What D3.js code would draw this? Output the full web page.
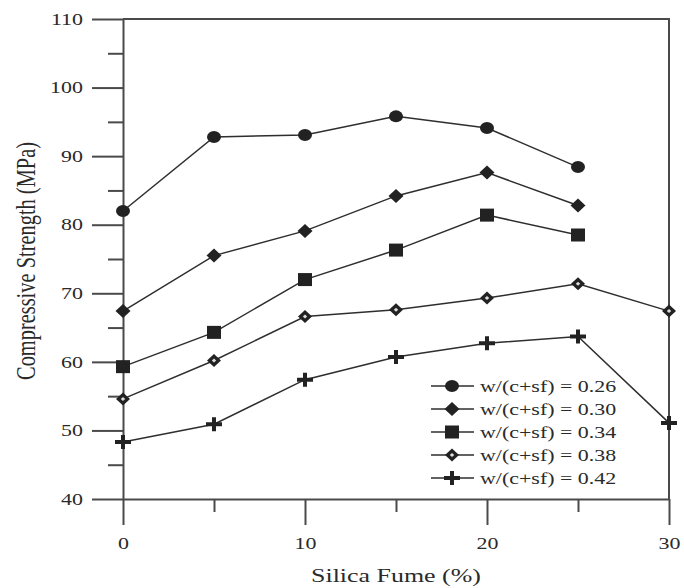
<!DOCTYPE html>
<html>
<head>
<meta charset="utf-8">
<script src="https://cdn.jsdelivr.net/npm/d3@7"></script>
<style>
  body { margin: 0; background: #fff; }
  text { font-family: "Liberation Serif", "Times New Roman", serif; fill: #2a2a2a; }
</style>
</head>
<body>
<svg id="chart" width="684" height="588"></svg>
<script>
// Silica fume replacement levels (%) and compressive strength (MPa) per w/(c+sf) ratio
const silicaFume = [0, 5, 10, 15, 20, 25, 30];
const ratioLabels = ["w/(c+sf) = 0.26", "w/(c+sf) = 0.30", "w/(c+sf) = 0.34", "w/(c+sf) = 0.38", "w/(c+sf) = 0.42"];
const strength026 = [82.0, 92.8, 93.1, 95.8, 94.1, 88.4];
const strength030 = [67.4, 75.5, 79.1, 84.2, 87.6, 82.8];
const strength034 = [59.3, 64.3, 72.0, 76.3, 81.4, 78.5];
const strength038 = [54.6, 60.2, 66.6, 67.6, 69.3, 71.4, 67.4];
const strength042 = [48.3, 50.9, 57.4, 60.7, 62.7, 63.7, 51.1];
const markerTypes = ["circle", "diamond", "square", "openDiamond", "plus"];
const xMajorTicks = [0, 10, 20, 30];
const xMinorTicks = [5, 15, 25];
const yMajorTicks = [40, 50, 60, 70, 80, 90, 100, 110];
const yMinorTicks = [45, 55, 65, 75, 85, 95, 105];

const seriesValues = [strength026, strength030, strength034, strength038, strength042];
const series = seriesValues.map((vals, i) => ({
  label: ratioLabels[i],
  marker: markerTypes[i],
  points: vals.map((v, j) => ({ x: silicaFume[j], y: v }))
}));

const SX = 1.33;   // horizontal glyph stretch used for all lettering
const ink = "#222";
const axisColor = "#4a4a4a";

const svg = d3.select("#chart");
const plotLeft = 123, plotRight = 669, plotTop = 19, plotBottom = 499;

const x = d3.scaleLinear().domain([0, 30]).range([plotLeft, plotRight]);
const y = d3.scaleLinear().domain([40, 110]).range([plotBottom, plotTop]);

// Plot frame (top and right edges)
svg.append("path")
  .attr("d", `M${plotLeft},${plotTop}H${plotRight}V${plotBottom}`)
  .attr("fill", "none").attr("stroke", axisColor).attr("stroke-width", 2);

// Y axis
const yAxis = svg.append("g").attr("transform", `translate(${plotLeft},0)`)
  .call(d3.axisLeft(y).tickValues(yMajorTicks).tickSize(31).tickSizeOuter(0).tickPadding(9));
svg.append("g").attr("transform", `translate(${plotLeft},0)`)
  .call(d3.axisLeft(y).tickValues(yMinorTicks).tickSize(15).tickSizeOuter(0).tickFormat(""))
  .select(".domain").remove();

// X axis
const xAxis = svg.append("g").attr("transform", `translate(0,${plotBottom})`)
  .call(d3.axisBottom(x).tickValues(xMajorTicks).tickSize(26).tickSizeOuter(0).tickPadding(12));
svg.append("g").attr("transform", `translate(0,${plotBottom})`)
  .call(d3.axisBottom(x).tickValues(xMinorTicks).tickSize(13).tickSizeOuter(0).tickFormat(""))
  .select(".domain").remove();

svg.selectAll(".domain, .tick line").attr("stroke", axisColor).attr("stroke-width", 2);

yAxis.selectAll(".tick text")
  .attr("font-size", 16.5).attr("fill", "#2a2a2a")
  .attr("font-family", "Liberation Serif, serif")
  .attr("x", -40 / SX)
  .attr("transform", `scale(${SX},1)`);
xAxis.selectAll(".tick text")
  .attr("font-size", 16.5).attr("fill", "#2a2a2a")
  .attr("font-family", "Liberation Serif, serif")
  .attr("transform", `scale(${SX},1)`);

// Axis titles
svg.append("text")
  .attr("transform", `translate(${(plotLeft + plotRight) / 2},582) scale(${SX},1)`)
  .attr("text-anchor", "middle").attr("font-size", 19.5)
  .text("Silica Fume (%)");
svg.append("text")
  .attr("transform", `translate(35,261) scale(${SX},1) rotate(-90)`)
  .attr("text-anchor", "middle").attr("font-size", 20.4)
  .text("Compressive Strength (MPa)");

// Marker shapes
function drawMarker(g, type) {
  if (type === "circle") {
    g.append("ellipse").attr("rx", 7).attr("ry", 6).attr("fill", ink);
  } else if (type === "diamond") {
    g.append("path").attr("d", "M0,-7L7.5,0L0,7L-7.5,0Z").attr("fill", ink);
  } else if (type === "square") {
    g.append("rect").attr("x", -7).attr("y", -6.5).attr("width", 14).attr("height", 13).attr("fill", ink);
  } else if (type === "openDiamond") {
    g.append("path").attr("d", "M0,-6.5L7,0L0,6.5L-7,0Z").attr("fill", ink);
    g.append("path").attr("d", "M0,-2L2.2,0L0,2L-2.2,0Z").attr("fill", "#ddd");
  } else if (type === "plus") {
    g.append("path").attr("d", "M-8,0H8M0,-7V7").attr("stroke", ink).attr("stroke-width", 4);
  }
}

const line = d3.line().x(d => x(d.x)).y(d => y(d.y));

series.forEach(s => {
  svg.append("path").datum(s.points)
    .attr("d", line).attr("fill", "none")
    .attr("stroke", "#2e2e2e").attr("stroke-width", 1.5);
});
series.forEach(s => {
  svg.selectAll(null).data(s.points).enter().append("g")
    .attr("transform", d => `translate(${x(d.x)},${y(d.y)})`)
    .each(function () { drawMarker(d3.select(this), s.marker); });
});

// Legend
const legend = svg.append("g").attr("transform", "translate(431,386)");
series.forEach((s, i) => {
  const row = legend.append("g").attr("transform", `translate(0,${i * 23})`);
  row.append("line").attr("x1", 0).attr("x2", 43).attr("y1", 0).attr("y2", 0)
    .attr("stroke", "#2e2e2e").attr("stroke-width", 1.5);
  drawMarker(row.append("g").attr("transform", "translate(21,0)"), s.marker);
  row.append("text")
    .attr("transform", `translate(49,6) scale(${SX},1)`)
    .attr("font-size", 16.5)
    .text(s.label);
});
</script>
</body>
</html>
